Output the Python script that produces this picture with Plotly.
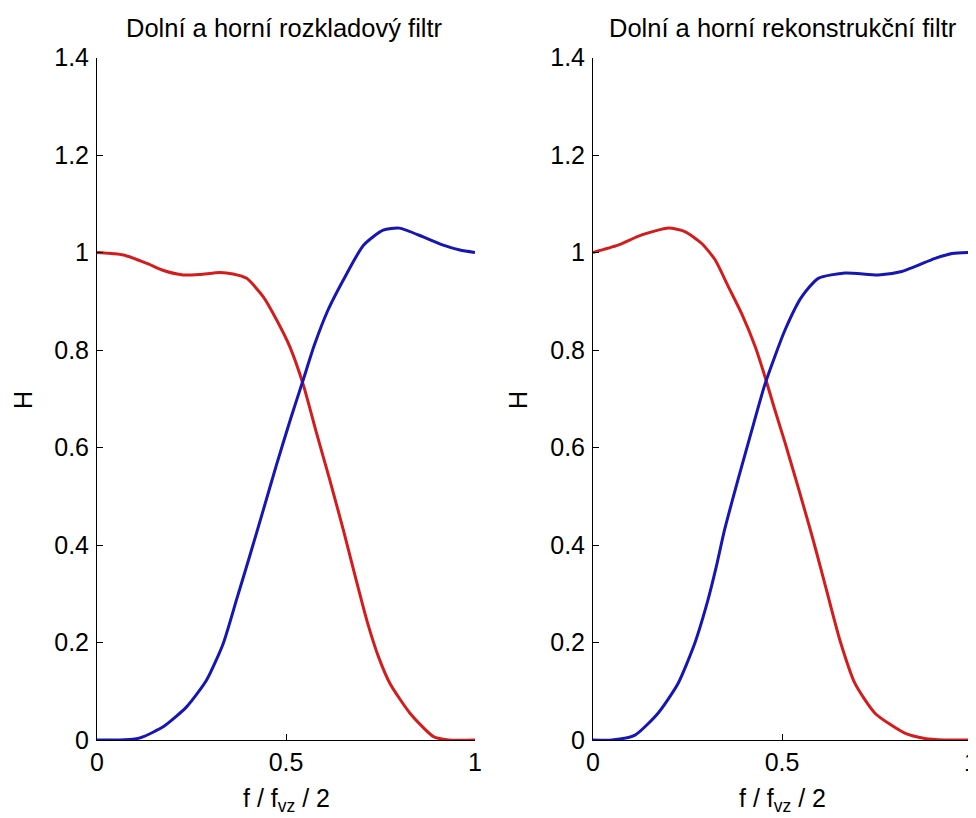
import plotly.graph_objects as go

# ---- data ----
# left panel: decomposition filters
dec_lo_x = [0, 0.07, 0.131, 0.176, 0.228, 0.272, 0.325, 0.36, 0.396, 0.44, 0.475, 0.51, 0.546,
            0.581, 0.616, 0.652, 0.685, 0.714, 0.745, 0.775, 0.828, 0.89, 0.93, 1.0]
dec_lo_y = [1.0, 0.995, 0.978, 0.963, 0.954, 0.955, 0.959, 0.956, 0.947, 0.909, 0.862, 0.807, 0.728,
            0.629, 0.533, 0.43, 0.33, 0.245, 0.17, 0.116, 0.055, 0.007, 0.0, 0.0]
dec_hi_x = [0, 0.06, 0.1, 0.123, 0.175, 0.237, 0.29, 0.334, 0.37, 0.405, 0.44, 0.475, 0.511, 0.546,
            0.575, 0.61, 0.652, 0.705, 0.757, 0.80, 0.863, 0.916, 0.96, 1.0]
dec_hi_y = [0, 0, 0.002, 0.007, 0.027, 0.068, 0.123, 0.198, 0.29, 0.38, 0.472, 0.565, 0.656, 0.74,
            0.81, 0.88, 0.944, 1.015, 1.046, 1.05, 1.032, 1.015, 1.005, 1.0]

# right panel: reconstruction filters
rec_lo_x = [0, 0.066, 0.129, 0.2, 0.243, 0.287, 0.323, 0.358, 0.393, 0.429, 0.455, 0.48, 0.508,
            0.544, 0.579, 0.605, 0.627, 0.655, 0.693, 0.746, 0.825, 0.878, 0.93, 1.0]
rec_lo_y = [1.0, 1.015, 1.036, 1.05, 1.043, 1.019, 0.985, 0.93, 0.875, 0.807, 0.745, 0.68, 0.61,
            0.515, 0.42, 0.345, 0.28, 0.2, 0.116, 0.055, 0.014, 0.003, 0.0, 0.0]
rec_hi_x = [0, 0.05, 0.111, 0.172, 0.225, 0.269, 0.304, 0.326, 0.348, 0.384, 0.42, 0.455, 0.508,
            0.552, 0.596, 0.667, 0.755, 0.817, 0.905, 0.95, 1.0]
rec_hi_y = [0, 0, 0.01, 0.055, 0.116, 0.198, 0.287, 0.355, 0.431, 0.535, 0.635, 0.73, 0.841,
            0.909, 0.947, 0.958, 0.954, 0.961, 0.988, 0.998, 1.0]

titles = ["Dolní a horní rozkladový filtr", "Dolní a horní rekonstrukční filtr"]
x_ticks = [0, 0.5, 1]
x_ticktext = ["0", "0.5", "1"]
y_ticks = [0, 0.2, 0.4, 0.6, 0.8, 1.0, 1.2, 1.4]
y_ticktext = ["0", "0.2", "0.4", "0.6", "0.8", "1", "1.2", "1.4"]
x_label = "f / f<sub>vz</sub> / 2"
y_label = "H"

RED = "rgb(212,28,28)"
BLUE = "rgb(22,22,180)"
FONT = "Liberation Sans"
FS = 25

fig = go.Figure()
lw = 3
for xs, ys, c, xa, ya in [(dec_lo_x, dec_lo_y, RED, "x", "y"), (dec_hi_x, dec_hi_y, BLUE, "x", "y"),
                          (rec_lo_x, rec_lo_y, RED, "x2", "y2"), (rec_hi_x, rec_hi_y, BLUE, "x2", "y2")]:
    fig.add_trace(go.Scatter(x=xs, y=ys, mode="lines",
                             line=dict(color=c, width=lw, shape="spline", smoothing=0.6),
                             xaxis=xa, yaxis=ya, hoverinfo="skip"))

W, H = 976, 818
OX, OY = 8, 8  # page offset of the plot div in the browser

def px_x(sx):
    return (sx - OX) / W

def px_y(sy):
    return (H - (sy - OY)) / H

yd = [px_y(740), px_y(57.5)]
xd1 = [px_x(97), px_x(475)]
xd2 = [px_x(593), px_x(971)]

def xax(domain, anchor):
    return dict(domain=domain, anchor=anchor, range=[0, 1], tickvals=x_ticks, ticktext=x_ticktext,
                showline=True, linecolor="black", linewidth=1, mirror=False, showgrid=False, zeroline=False,
                ticks="inside", ticklen=6, tickcolor="black", tickwidth=1, automargin=False,
                tickfont=dict(family=FONT, size=FS, color="black"), fixedrange=True)

def yax(anchor):
    return dict(domain=yd, anchor=anchor, range=[0, 1.4], tickvals=y_ticks, ticktext=y_ticktext,
                showline=True, linecolor="black", linewidth=1, mirror=False, showgrid=False, zeroline=False,
                ticks="inside", ticklen=6, tickcolor="black", tickwidth=1, automargin=False,
                ticklabelstandoff=2,
                tickfont=dict(family=FONT, size=FS, color="black"), fixedrange=True)

fig.update_layout(
    width=W, height=H, margin=dict(l=0, r=0, t=0, b=0, autoexpand=False),
    paper_bgcolor="white", plot_bgcolor="white", showlegend=False,
    xaxis=xax(xd1, "y"), yaxis=yax("x"),
    xaxis2=xax(xd2, "y2"), yaxis2=yax("x2"),
)

ann = []
for cxs, t in zip([284.5, 782.5], titles):
    ann.append(dict(text=t, x=px_x(cxs), y=px_y(28), xref="paper", yref="paper", showarrow=False,
                    font=dict(family=FONT, size=25.5, color="black"), xanchor="center", yanchor="middle"))
for cxs in [286, 782]:
    ann.append(dict(text=x_label, x=px_x(cxs), y=px_y(782), xref="paper", yref="paper", showarrow=False,
                    font=dict(family=FONT, size=FS, color="black"), xanchor="center", yanchor="top"))
for sx in [23, 518]:
    ann.append(dict(text=y_label, x=px_x(sx), y=px_y(400), xref="paper", yref="paper", showarrow=False,
                    textangle=-90, font=dict(family=FONT, size=FS, color="black"),
                    xanchor="center", yanchor="middle"))
fig.update_layout(annotations=ann)

fig.write_html("out.html")
